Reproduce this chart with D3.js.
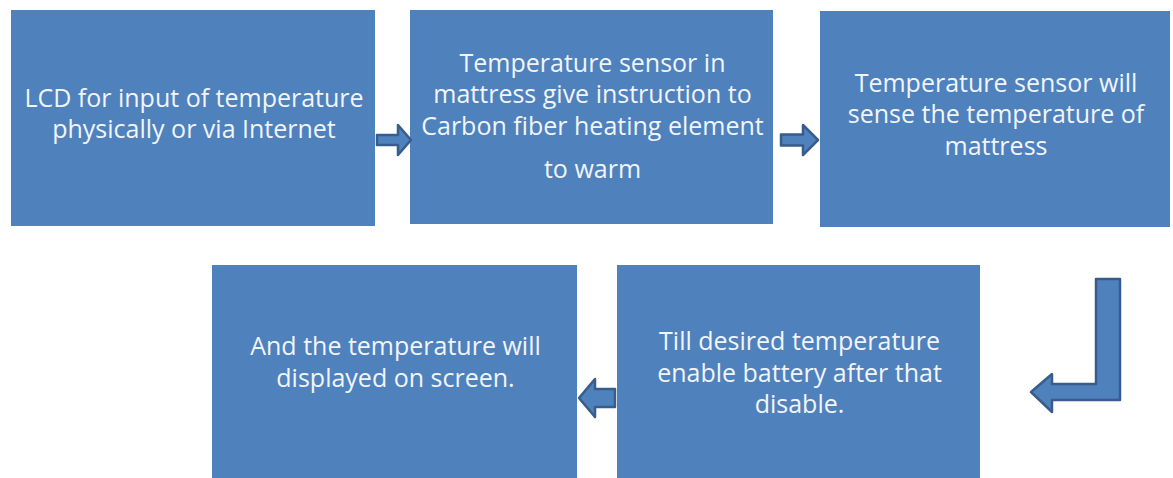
<!DOCTYPE html>
<html>
<head>
<meta charset="utf-8">
<script src="https://cdn.jsdelivr.net/npm/d3@7"></script>
<style>
  body { margin: 0; background: #fff; }
  svg { display: block; }
</style>
</head>
<body>
<div id="chart"></div>
<script>
// Step texts, one array of lines per box
const step1 = ["LCD for input of temperature", "physically or via Internet"];
const step2 = ["Temperature sensor in", "mattress give instruction to", "Carbon fiber heating element", "to warm"];
const step3 = ["Temperature sensor will", "sense the temperature of", "mattress"];
const step4 = ["Till desired temperature", "enable battery after that", "disable."];
const step5 = ["And the temperature will", "displayed on screen."];
const steps = [step1, step2, step3, step4, step5];

// Layout (pixels)
const W = 1173, H = 478;
const boxes = [
  {x: 11,  y: 10,  w: 364, h: 216, base: [107, 138]},
  {x: 410, y: 10,  w: 363, h: 214, base: [72, 103, 135, 178]},
  {x: 820, y: 11,  w: 350, h: 216, base: [92, 123, 155]},
  {x: 617, y: 265, w: 363, h: 220, base: [350, 382, 413]},
  {x: 212, y: 265, w: 365, h: 220, base: [355, 387]}
];

const boxFill = "#4f81bd", arrowStroke = "#385d8a", textFill = "#f1f5fa";

const svg = d3.select("#chart").append("svg")
    .attr("width", W)
    .attr("height", H);

// Boxes
const g = svg.selectAll("g.step")
  .data(boxes)
  .enter().append("g")
    .attr("class", "step");

g.append("rect")
    .attr("x", d => d.x)
    .attr("y", d => d.y)
    .attr("width", d => d.w)
    .attr("height", d => d.h)
    .attr("fill", boxFill);

g.each(function(d, i) {
  d3.select(this).selectAll("text")
    .data(steps[i])
    .enter().append("text")
      .attr("x", d.x + d.w / 2 + 1)
      .attr("y", (t, j) => d.base[j])
      .attr("text-anchor", "middle")
      .attr("fill", textFill)
      .style("font-family", "'Open Sans', sans-serif")
      .style("font-size", "25px")
      .text(t => t);
});

// Arrows
function rightArrow(x0, x1, xh, cy, sh, hh) {
  const p = d3.path();
  p.moveTo(x0, cy - sh / 2);
  p.lineTo(xh, cy - sh / 2);
  p.lineTo(xh, cy - hh / 2);
  p.lineTo(x1, cy);
  p.lineTo(xh, cy + hh / 2);
  p.lineTo(xh, cy + sh / 2);
  p.lineTo(x0, cy + sh / 2);
  p.closePath();
  return p.toString();
}

const arrows = [
  rightArrow(377, 411, 398, 140, 10, 30),
  rightArrow(781, 818, 803, 140, 11, 30),
  rightArrow(615, 579, 595, 398, 18, 38)
];

// bent arrow: down from box 3, then left toward box 4
const bent = d3.path();
bent.moveTo(1096, 279);
bent.lineTo(1120, 279);
bent.lineTo(1120, 400);
bent.lineTo(1052, 400);
bent.lineTo(1052, 412);
bent.lineTo(1031, 392);
bent.lineTo(1052, 374);
bent.lineTo(1052, 384);
bent.lineTo(1096, 384);
bent.closePath();
arrows.push(bent.toString());

svg.selectAll("path.arrow")
  .data(arrows)
  .enter().append("path")
    .attr("class", "arrow")
    .attr("d", d => d)
    .attr("fill", boxFill)
    .attr("stroke", arrowStroke)
    .attr("stroke-width", 2.5)
    .attr("stroke-linejoin", "round");
</script>
</body>
</html>
